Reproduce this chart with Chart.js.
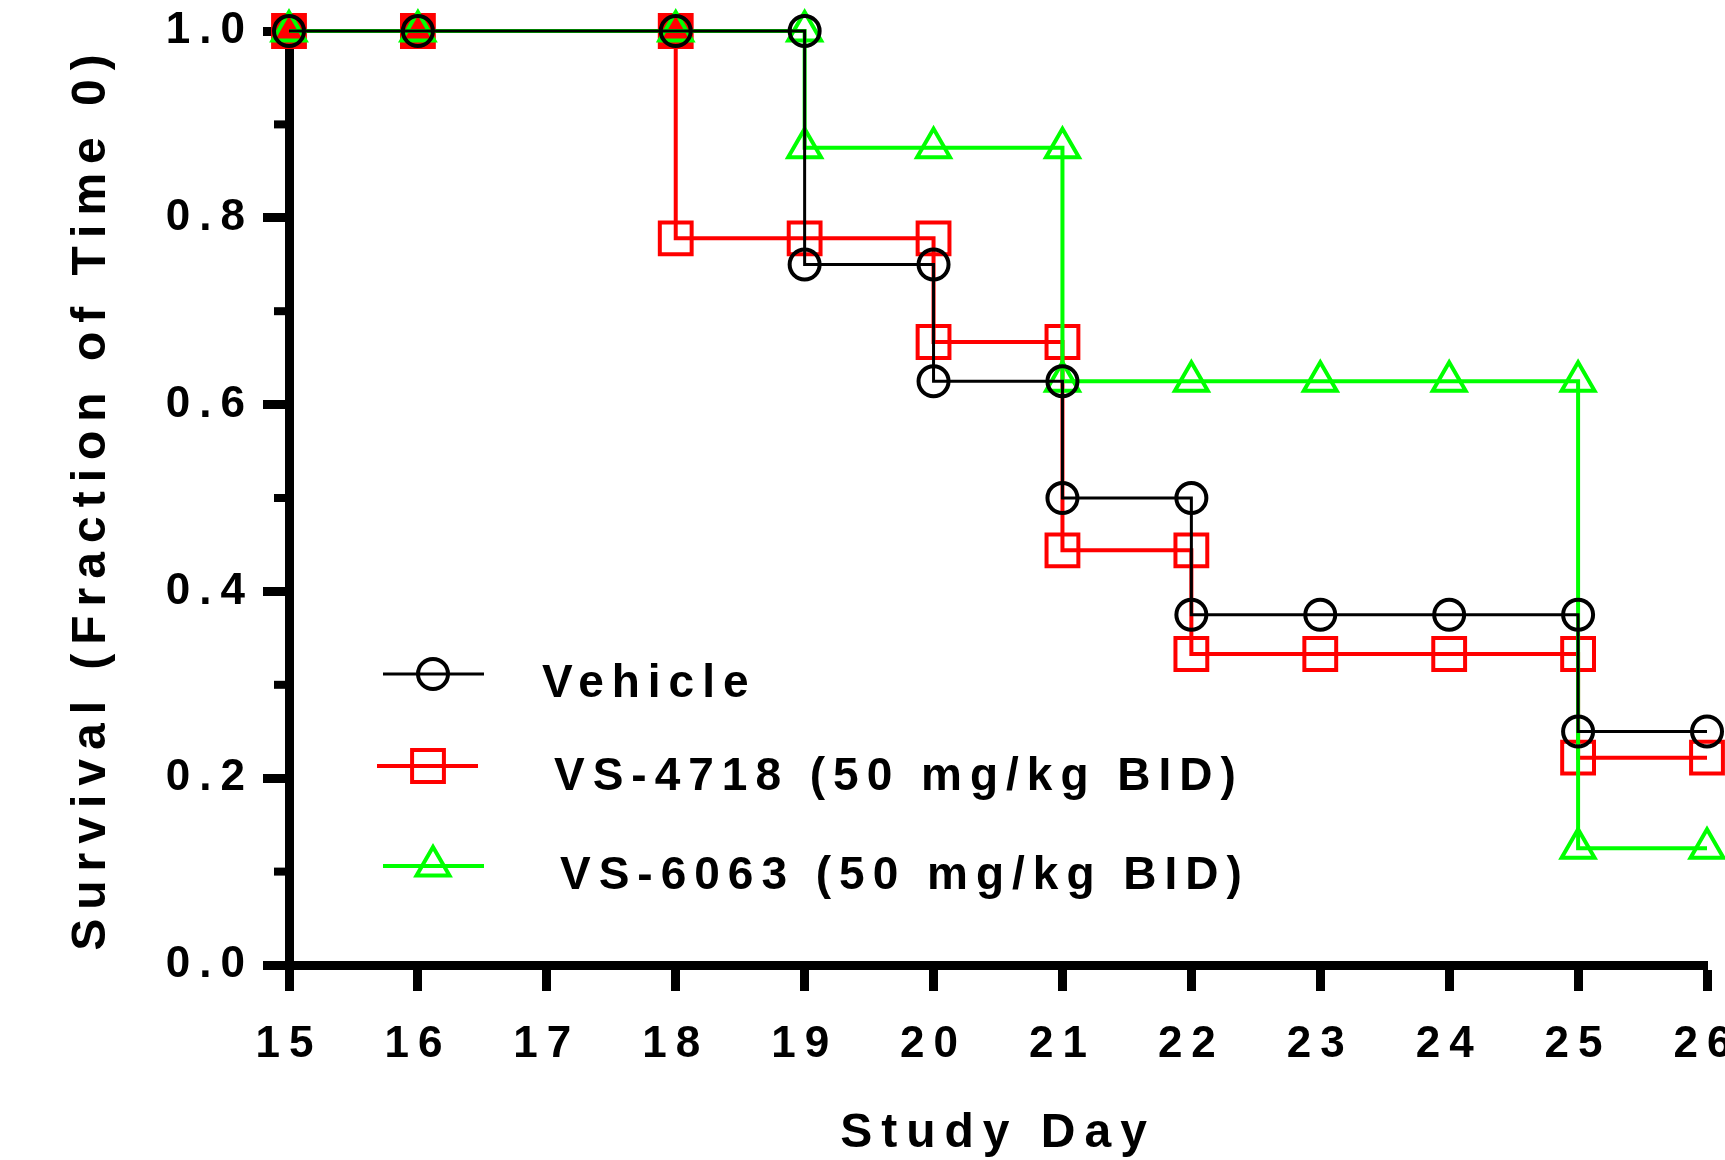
<!DOCTYPE html>
<html>
<head>
<meta charset="utf-8">
<script src="https://cdn.jsdelivr.net/npm/chart.js@4"></script>
<style>
html, body { margin: 0; padding: 0; background: #fff; overflow: hidden; }
#wrap { position: relative; width: 1800px; height: 1160px; }
</style>
</head>
<body>
<div id="wrap"><canvas id="survivalChart"></canvas></div>
<script>
// Kaplan-Meier steps (drop points are listed twice)
var vehicleDays = [15, 16, 18, 19, 19, 20, 20, 21, 21, 22, 22, 23, 24, 25, 25, 26];
var vehicleSurv = [1, 1, 1, 1, 0.75, 0.75, 0.625, 0.625, 0.5, 0.5, 0.375, 0.375, 0.375, 0.375, 0.25, 0.25];

var vs4718Days = [15, 16, 18, 18, 19, 20, 20, 21, 21, 22, 22, 23, 24, 25, 25, 26];
var vs4718Surv = [1, 1, 1, 0.778, 0.778, 0.778, 0.667, 0.667, 0.444, 0.444, 0.333, 0.333, 0.333, 0.333, 0.222, 0.222];

var vs6063Days = [15, 16, 18, 19, 19, 20, 21, 21, 22, 23, 24, 25, 25, 26];
var vs6063Surv = [1, 1, 1, 1, 0.875, 0.875, 0.875, 0.625, 0.625, 0.625, 0.625, 0.625, 0.125, 0.125];

var seriesLabels = ['Vehicle', 'VS-4718 (50 mg/kg BID)', 'VS-6063 (50 mg/kg BID)'];

var xTickValues = [15, 16, 17, 18, 19, 20, 21, 22, 23, 24, 25, 26];
var yTickValues = [0, 0.2, 0.4, 0.6, 0.8, 1.0];
var yMinorTicks = [0.1, 0.3, 0.5, 0.7, 0.9];

var FONT = '"Liberation Sans", Arial, sans-serif';

// where the legend sits inside the plot (pixels)
var legendPos = [
    {x1: 383, x2: 484, ly: 674, mx: 433, tx: 542, ty: 684},
    {x1: 377, x2: 478, ly: 766, mx: 428, tx: 554, ty: 777},
    {x1: 383, x2: 484, ly: 866, mx: 433, tx: 560, ty: 876}
];

function toPoints(xs, ys)
{
    var pts = [];
    for (var i = 0; i < xs.length; i++) {
        pts.push({x: xs[i], y: ys[i]});
    }
    return pts;
}

function drawMarker(ctx, style, x, y, r, color, lw)
{
    ctx.save();
    ctx.strokeStyle = color;
    ctx.lineWidth = lw;
    ctx.beginPath();
    if (style === 'circle') {
        ctx.arc(x, y, r, 0, Math.PI * 2);
    } else if (style === 'rect') {
        var s = r * Math.SQRT1_2;
        ctx.rect(x - s, y - s, 2 * s, 2 * s);
    } else {
        for (var k = 0; k < 3; k++) {
            var a = -Math.PI / 2 + k * 2 * Math.PI / 3;
            if (k === 0) ctx.moveTo(x + r * Math.cos(a), y + r * Math.sin(a));
            else ctx.lineTo(x + r * Math.cos(a), y + r * Math.sin(a));
        }
        ctx.closePath();
    }
    ctx.stroke();
    ctx.restore();
}

// wide letter spacing like the original figure
var spacingPlugin = {
    id: 'spacing',
    beforeLayout: function(chart) { chart.ctx.letterSpacing = '9px'; },
    beforeDraw: function(chart) { chart.ctx.letterSpacing = '9px'; }
};

// short minor ticks on the y axis + legend inside the plot
var extrasPlugin = {
    id: 'extras',
    afterDraw: function(chart) {
        var ctx = chart.ctx;
        var yScale = chart.scales.y;
        var left = chart.chartArea.left;
        ctx.save();
        ctx.fillStyle = '#000';
        yMinorTicks.forEach(function(v) {
            var py = yScale.getPixelForValue(v);
            ctx.fillRect(left - 15, py - 4, 15, 8);
        });

        ctx.letterSpacing = '8px';
        chart.data.datasets.forEach(function(ds, i) {
            var p = legendPos[i];
            ctx.strokeStyle = ds.borderColor;
            ctx.lineWidth = ds.borderWidth;
            ctx.beginPath();
            ctx.moveTo(p.x1, p.ly);
            ctx.lineTo(p.x2, p.ly);
            ctx.stroke();
            drawMarker(ctx, ds.pointStyle, p.mx, p.ly, ds.pointRadius, ds.borderColor, ds.pointBorderWidth);
            ctx.fillStyle = '#000';
            ctx.font = 'bold 46px ' + FONT;
            ctx.textBaseline = 'middle';
            ctx.textAlign = 'left';
            ctx.fillText(ds.label, p.tx, p.ty);
        });
        ctx.restore();
    }
};

var tickFont = {family: FONT, size: 44, weight: 'bold'};
var xTitleFont = {family: FONT, size: 48, weight: 'bold', lineHeight: 1.1};
var yTitleFont = {family: FONT, size: 48, weight: 'bold', lineHeight: 1.2};

var ctx = document.getElementById('survivalChart');
var chart = new Chart(ctx, {
    type: 'line',
    data: {
        datasets: [
            {
                label: seriesLabels[0],
                data: toPoints(vehicleDays, vehicleSurv),
                borderColor: '#000000',
                borderWidth: 3,
                pointStyle: 'circle',
                pointRadius: 15,
                pointBorderWidth: 4,
                pointBorderColor: '#000000',
                pointBackgroundColor: 'rgba(0,0,0,0)',
                tension: 0,
                fill: false,
                clip: false,
                order: 0
            },
            {
                label: seriesLabels[1],
                data: toPoints(vs4718Days, vs4718Surv),
                borderColor: '#ff0000',
                borderWidth: 4,
                pointStyle: 'rect',
                pointRadius: 22.5,
                pointBorderWidth: 4,
                pointBorderColor: '#ff0000',
                pointBackgroundColor: function(c) {
                    return (c.raw && c.raw.y === 1) ? '#ff0000' : 'rgba(0,0,0,0)';
                },
                tension: 0,
                fill: false,
                clip: false,
                order: 2
            },
            {
                label: seriesLabels[2],
                data: toPoints(vs6063Days, vs6063Surv),
                borderColor: '#00ff00',
                borderWidth: 4,
                pointStyle: 'triangle',
                pointRadius: 19,
                pointBorderWidth: 4,
                pointBorderColor: '#00ff00',
                pointBackgroundColor: 'rgba(0,0,0,0)',
                tension: 0,
                fill: false,
                clip: false,
                order: 1
            }
        ]
    },
    options: {
        responsive: true,
        maintainAspectRatio: false,
        animation: false,
        layout: {padding: {top: 31, right: 93, left: 0, bottom: 0}},
        plugins: {
            legend: {display: false},
            tooltip: {enabled: false}
        },
        scales: {
            x: {
                type: 'linear',
                min: 15,
                max: 26,
                afterBuildTicks: function(s) {
                    s.ticks = xTickValues.map(function(v) { return {value: v}; });
                },
                afterFit: function(s) { s.height = 195; },
                border: {display: true, color: '#000', width: 9},
                grid: {drawOnChartArea: false, drawTicks: true, tickLength: 26, tickWidth: 9, tickColor: '#000'},
                ticks: {font: tickFont, color: '#000', padding: 27, autoSkip: false, maxRotation: 0},
                title: {display: true, text: 'Study Day', font: xTitleFont, color: '#000', padding: {top: 0, bottom: 0}}
            },
            y: {
                min: 0,
                max: 1,
                afterBuildTicks: function(s) {
                    s.ticks = yTickValues.map(function(v) { return {value: v}; });
                },
                afterFit: function(s) {
                    s.width = 289;
                    // keep the plot top at the layout padding
                    s.paddingTop = 0;
                    s.paddingBottom = 0;
                },
                border: {display: true, color: '#000', width: 9},
                grid: {drawOnChartArea: false, drawTicks: true, tickLength: 26, tickWidth: 9, tickColor: '#000'},
                ticks: {
                    font: tickFont,
                    color: '#000',
                    padding: 9,
                    callback: function(v) { return Number(v).toFixed(1); }
                },
                title: {display: true, text: 'Survival (Fraction of Time 0)', font: yTitleFont, color: '#000', padding: {top: 63, bottom: 0}}
            }
        }
    },
    plugins: [spacingPlugin, extrasPlugin]
});
</script>
</body>
</html>
